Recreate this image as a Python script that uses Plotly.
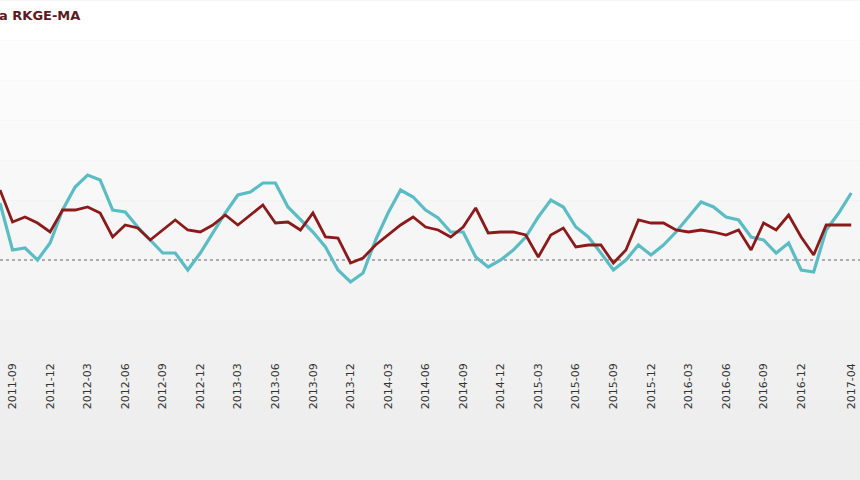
import plotly.graph_objects as go

# pixel-read values (positive = above baseline)
teal_px = [203,250,248,260,243,210,187,175,180,210,212,227,240,253,253,270,253,233,213,195,192,183,183,207,220,232,247,270,282,273,240,213,190,197,210,
           218,232,232,257,267,260,250,237,217,200,207,227,237,253,270,260,245,255,245,232,217,202,207,217,220,237,240,253,243,270,272,230,213,193]
red_px = [190,222,217,223,232,210,210,207,213,237,225,228,240,230,220,230,232,225,215,225,215,205,223,222,230,213,237,238,263,258,245,235,225,217,227,
          230,237,227,208,233,232,232,235,257,235,228,247,245,245,263,250,220,223,223,230,232,230,232,235,230,250,223,230,215,237,255,225,225,225]
teal = [260 - v for v in teal_px]
red = [260 - v for v in red_px]

months = []
y, m = 2011, 8
for _ in range(len(teal)):
    months.append(f"{y}-{m:02d}")
    m += 1
    if m > 12:
        m, y = 1, y + 1
idx = list(range(len(months)))
tick_idx = [i for i in idx if int(months[i][5:]) % 3 == 0 and i < 66] + [idx[-1]]
tick_lbl = [months[i] for i in tick_idx]

fig = go.Figure()
fig.add_trace(go.Scatter(x=idx, y=teal, mode="lines", line=dict(color="#5bbcc4", width=3.2), name="A"))
fig.add_trace(go.Scatter(x=idx, y=red, mode="lines", line=dict(color="#8b1a1a", width=2.8), name="RKGE-MA"))

shapes = []
n = 12
for k in range(n):
    g = int(255 - 18 * k / (n - 1))
    shapes.append(dict(type="rect", xref="paper", yref="paper", x0=0, x1=1,
                       y0=1.16 - 1.55 * (k + 1) / n, y1=1.16 - 1.55 * k / n,
                       fillcolor=f"rgb({g},{g},{g})", line=dict(width=0), layer="below"))
shapes.append(dict(type="line", xref="paper", yref="y", x0=0, x1=1, y0=0, y1=0,
                   line=dict(color="#666", width=1.2, dash="dot"), layer="below"))

fig.update_layout(
    width=860, height=480, margin=dict(l=0, r=0, t=50, b=120),
    paper_bgcolor="#ebebeb", plot_bgcolor="rgba(0,0,0,0)", showlegend=False, shapes=shapes,
    xaxis=dict(range=[0, 68.7], tickmode="array", tickvals=tick_idx, ticktext=tick_lbl,
               tickangle=-90, showgrid=False, zeroline=False,
               tickfont=dict(family="DejaVu Sans", size=11, color="#333")),
    yaxis=dict(range=[-100, 210], visible=False),
    annotations=[dict(text="<b>a RKGE-MA</b>", xref="paper", yref="paper", x=-0.003, y=1.11,
                      xanchor="left", yanchor="middle", showarrow=False,
                      font=dict(family="DejaVu Sans", size=13, color="#5e1a24"))],
)
fig.write_html("out.html", config={"displayModeBar": False},
               post_script="document.body.style.margin='0';")
